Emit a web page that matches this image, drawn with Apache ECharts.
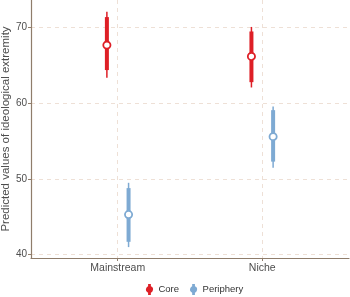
<!DOCTYPE html>
<html>
<head>
<meta charset="utf-8">
<script src="https://cdn.jsdelivr.net/npm/echarts@6/dist/echarts.min.js"></script>
<style>
html, body { margin: 0; padding: 0; background: #fff; }
#chart { width: 350px; height: 297px; }
</style>
</head>
<body>
<div id="chart"></div>
<script>
var categories = ['Mainstream', 'Niche'];
var catPos = [1, 2];
var yTicks = [40, 50, 60, 70];

// Core
var coreMid = [67.7, 66.2];
var coreThickLo = [64.4, 62.8];
var coreThickHi = [71.4, 69.5];
var coreThinLo = [63.4, 62.1];
var coreThinHi = [72.1, 70.1];

// Periphery
var perMid = [45.3, 55.6];
var perThickLo = [41.7, 52.3];
var perThickHi = [48.8, 59.1];
var perThinLo = [41.0, 51.5];
var perThinHi = [49.5, 59.6];

var RED = '#de1f26';
var BLUE = '#7eaad3';
var GRIDC = '#eee0d6';
var AXISC = '#8f7d6b';
var legendIcon = 'path://M2.5,0 L5.5,0 L5.5,2.51 A3.8,3.8 0 0 1 5.5,9.49 L5.5,12 L2.5,12 L2.5,9.49 A3.8,3.8 0 0 1 2.5,2.51 Z';

function buildRows(mid, tlo, thi, nlo, nhi) {
	var rows = [];
	for (var i = 0; i < catPos.length; i++) {
		rows.push([catPos[i], mid[i], tlo[i], thi[i], nlo[i], nhi[i]]);
	}
	return rows;
}

function makeRender(offset, color) {
	return function (params, api) {
		var x = api.value(0) + offset;
		var c = api.coord([x, api.value(1)]);
		var tlo = api.coord([x, api.value(2)]);
		var thi = api.coord([x, api.value(3)]);
		var nlo = api.coord([x, api.value(4)]);
		var nhi = api.coord([x, api.value(5)]);
		return {
			type: 'group',
			children: [
				{ type: 'line', shape: { x1: nlo[0], y1: nlo[1], x2: nhi[0], y2: nhi[1] },
					style: { stroke: color, lineWidth: 1.5 } },
				{ type: 'line', shape: { x1: tlo[0], y1: tlo[1], x2: thi[0], y2: thi[1] },
					style: { stroke: color, lineWidth: 4 } },
				{ type: 'circle', shape: { cx: c[0], cy: c[1], r: 3.6 },
					style: { fill: '#fff', stroke: color, lineWidth: 1.8 } }
			]
		};
	};
}

var option = {
	animation: false,
	textStyle: { fontFamily: 'Liberation Sans, Arial, sans-serif' },
	grid: { left: 31, right: 1, top: 0, bottom: 39, outerBoundsMode: 'none', containLabel: false },
	xAxis: {
		type: 'value',
		min: 0.4,
		max: 2.6,
		axisLine: { show: true, lineStyle: { color: AXISC, width: 1.2 } },
		axisTick: { show: true, customValues: catPos, length: 3, lineStyle: { color: AXISC } },
		axisLabel: {
			customValues: catPos,
			color: '#4d4d4d', fontSize: 10.5, margin: 5,
			formatter: function (v) { return categories[Math.round(v) - 1]; }
		},
		splitLine: { show: true, lineStyle: { color: GRIDC, type: [4, 4] } }
	},
	yAxis: {
		type: 'value',
		min: 39.56,
		max: 73.66,
		name: 'Predicted values of ideological extremity',
		nameLocation: 'middle',
		nameGap: 19,
		nameMoveOverlap: false,
		nameTextStyle: { color: '#4d4d4d', fontSize: 11.5 },
		axisLine: { show: true, lineStyle: { color: AXISC, width: 1.2 } },
		axisTick: { show: true, customValues: yTicks, length: 3, lineStyle: { color: AXISC } },
		axisLabel: { customValues: yTicks, color: '#4d4d4d', fontSize: 10, margin: 4 },
		splitLine: { show: true, lineStyle: { color: GRIDC, type: [4, 4] } }
	},
	legend: {
		left: 141,
		bottom: -3,
		itemWidth: 8,
		itemHeight: 11,
		itemGap: 11,
		textStyle: { color: '#333', fontSize: 9.5 },
		data: [
			{ name: 'Core', icon: legendIcon },
			{ name: 'Periphery', icon: legendIcon }
		]
	},
	series: [
		{
			name: 'Core',
			type: 'custom',
			itemStyle: { color: RED },
			renderItem: makeRender(-0.075, RED),
			encode: { x: 0, y: [1, 2, 3, 4, 5] },
			data: buildRows(coreMid, coreThickLo, coreThickHi, coreThinLo, coreThinHi)
		},
		{
			name: 'Periphery',
			type: 'custom',
			itemStyle: { color: BLUE },
			renderItem: makeRender(0.075, BLUE),
			encode: { x: 0, y: [1, 2, 3, 4, 5] },
			data: buildRows(perMid, perThickLo, perThickHi, perThinLo, perThinHi)
		}
	]
};

var myChart = echarts.init(document.getElementById('chart'));
myChart.setOption(option);
</script>
</body>
</html>
